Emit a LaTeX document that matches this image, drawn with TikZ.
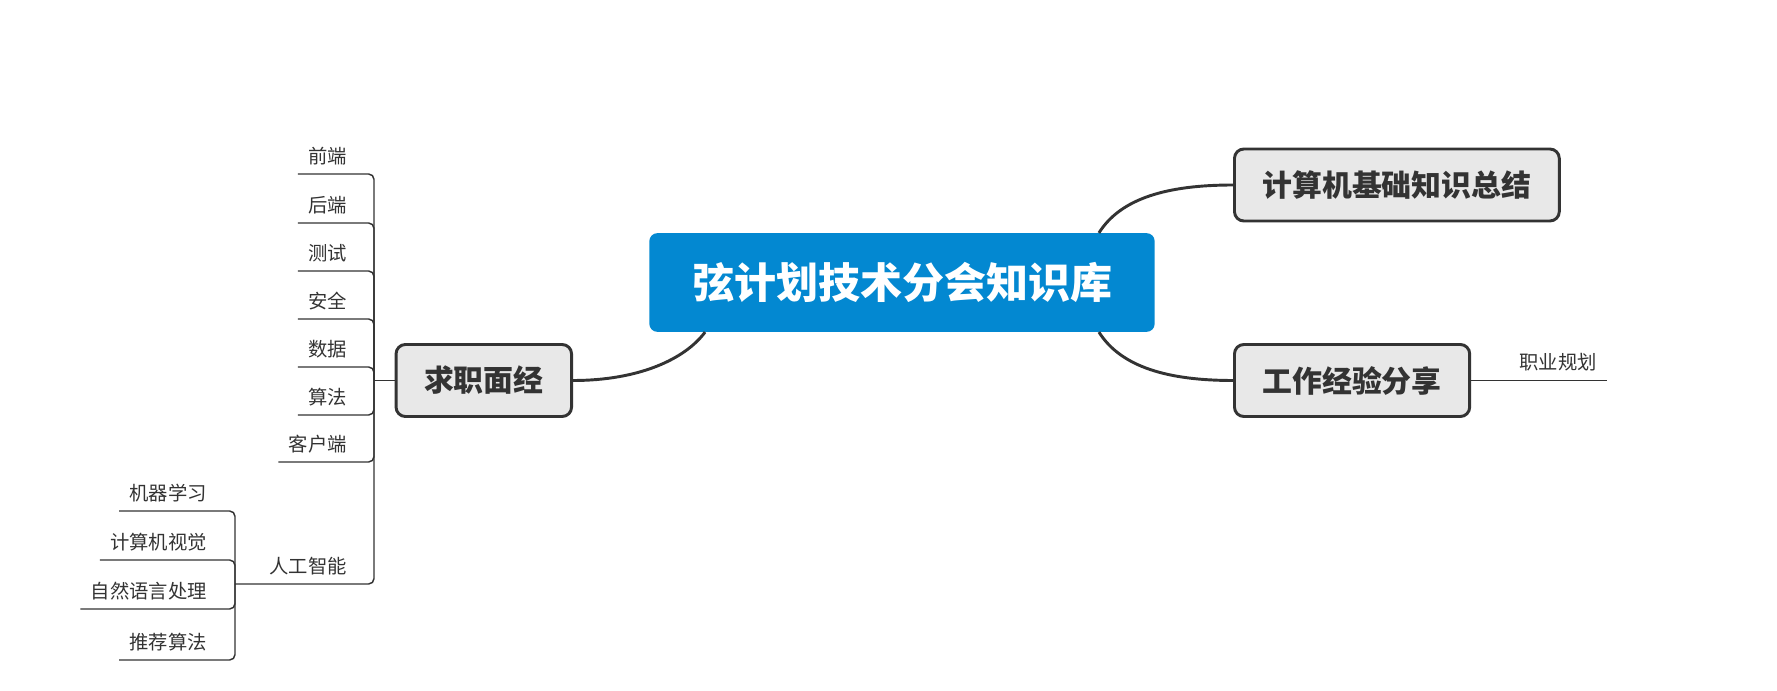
\documentclass[tikz,border=0pt]{standalone}
\usepackage{fontspec}
\usepackage{xcolor}
\usetikzlibrary{calc}
\newfontfamily\cjk{Noto Sans CJK SC}

\definecolor{rootblue}{RGB}{3,136,209}
\definecolor{topicgray}{RGB}{232,232,232}
\definecolor{inkgray}{RGB}{51,51,51}

\begin{document}
\begin{tikzpicture}[x=0.75pt,y=-0.75pt,
  root/.style={fill=rootblue, text=white, rounded corners=6pt,
    font=\cjk\bfseries\fontsize{31.5}{36}\selectfont,
    minimum width=379pt, minimum height=74pt},
  topic/.style={draw=inkgray, line width=2.2pt, fill=topicgray, text=inkgray,
    rounded corners=7pt, font=\cjk\bfseries\fontsize{22.4}{26}\selectfont,
    inner xsep=21pt, minimum height=54pt},
  leaf/.style={text=inkgray, font=\cjk\fontsize{14.5}{17}\selectfont,
    inner xsep=7.5pt, inner ysep=8pt, text height=10pt, text depth=0pt},
  branch/.style={draw=inkgray, line width=2.2pt},
  twig/.style={draw=inkgray, line width=1.1pt, rounded corners=4pt}]

\useasboundingbox (0,0) rectangle (1777,691);

% Main nodes
\node[root] (root) at (902,282.5) {弦计划技术分会知识库};
\node[topic, anchor=west] (cs) at (1233,185) {计算机基础知识总结};
\node[topic, anchor=west] (work) at (1233,380.5) {工作经验分享};
\node[topic, anchor=east] (job) at (573,380.5) {求职面经};

% Curved branches from the root
\draw[branch] ($(root.north east)+(-56,0)$) .. controls +(22,-35) and +(-65,0) .. (cs.west);
\draw[branch] ($(root.south east)+(-56,0)$) .. controls +(22,35) and +(-65,0) .. (work.west);
\draw[branch] (job.east) .. controls +(66,0) and +(-20,27) .. ($(root.south west)+(56,0)$);

% Right leaf
\node[leaf, anchor=south west] (career) at ($(work.east)+(38,0)$) {职业规划};
\draw[twig] (work.east) -- (career.south west) -- (career.south east);

% Left leaves of the job node
\coordinate (jobfork) at (374,380.5);
\draw[twig] (jobfork) -- (job.west);
\foreach \name/\txt/\y in {fe/前端/174, be/后端/223, qa/测试/271, sec/安全/319,
    data/数据/367, algo/算法/415, client/客户端/462} {
  \node[leaf, anchor=south east] (\name) at (357,\y) {\txt};
  \draw[twig] (\name.south west) -| (jobfork);
}

% AI sub-branch
\coordinate (aifork) at (235,584);
\node[leaf, anchor=south east] (ai) at (357,584) {人工智能};
\draw[twig] (aifork) -| (jobfork);
\foreach \name/\txt/\y in {ml/机器学习/511, cv/计算机视觉/560,
    nlp/自然语言处理/609, rec/推荐算法/660} {
  \node[leaf, anchor=south east] (\name) at (217,\y) {\txt};
  \draw[twig] (\name.south west) -| (aifork);
}

\end{tikzpicture}
\end{document}
